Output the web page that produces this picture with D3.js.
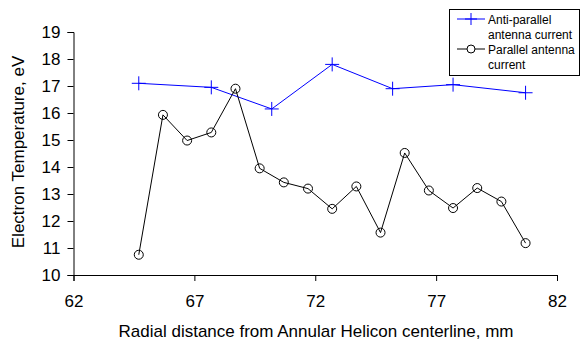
<!DOCTYPE html>
<html><head><meta charset="utf-8">
<script src="https://cdn.jsdelivr.net/npm/d3@7"></script>
<style>body{margin:0;background:#fff}svg{display:block}text{font-family:"Liberation Sans",Arial,sans-serif}</style>
</head><body>
<script>
const antiX = [64.7, 67.7, 70.2, 72.7, 75.2, 77.7, 80.7];
const antiY = [17.1, 16.95, 16.15, 17.8, 16.9, 17.05, 16.75];
const parX = [64.7, 65.7, 66.7, 67.7, 68.7, 69.7, 70.7, 71.7, 72.7, 73.7, 74.7, 75.7, 76.7, 77.7, 78.7, 79.7, 80.7];
const parY = [10.75, 15.93, 14.98, 15.28, 16.9, 13.95, 13.43, 13.2, 12.45, 13.28, 11.57, 14.52, 13.13, 12.48, 13.22, 12.72, 11.18];
const xTicks = [62, 67, 72, 77, 82];
const yTicks = [10, 11, 12, 13, 14, 15, 16, 17, 18, 19];
const legendLabels = [["Anti-parallel", "antenna current"], ["Parallel antenna", "current"]];

const W = 582, H = 344;
const svg = d3.select("body").append("svg").attr("width", W).attr("height", H);
const x = d3.scaleLinear().domain([62, 82]).range([73.5, 557]);
const y = d3.scaleLinear().domain([10, 19]).range([275, 32]);

const xa = svg.append("g").attr("transform", "translate(0,275)")
  .call(d3.axisBottom(x).tickValues(xTicks).tickSize(6).tickPadding(14).tickFormat(d3.format("d")));
const ya = svg.append("g").attr("transform", "translate(73.5,0)")
  .call(d3.axisLeft(y).tickValues(yTicks).tickSize(6).tickPadding(7).tickFormat(d3.format("d")));
[xa, ya].forEach(a => {
  a.select(".domain").attr("stroke", "#000").attr("stroke-width", 1);
  a.selectAll(".tick line").attr("stroke", "#000");
  a.selectAll(".tick text").attr("fill", "#000").style("font-size", "17px").style("font-family", '"Liberation Sans",Arial,sans-serif');
});

svg.append("text").attr("x", 316).attr("y", 337).attr("text-anchor", "middle")
  .style("font-size", "17px").text("Radial distance from Annular Helicon centerline, mm");
svg.append("text").attr("transform", "translate(24,152) rotate(-90)").attr("text-anchor", "middle")
  .style("font-size", "17px").text("Electron Temperature, eV");

const line = d3.line().x(d => x(d[0])).y(d => y(d[1]));
const anti = antiX.map((v, i) => [v, antiY[i]]);
const par = parX.map((v, i) => [v, parY[i]]);
const blue = "#0000ff";

svg.append("path").datum(anti).attr("d", line).attr("fill", "none").attr("stroke", blue).attr("stroke-width", 1);
svg.append("path").datum(par).attr("d", line).attr("fill", "none").attr("stroke", "#000").attr("stroke-width", 1);

const plus = (g, cx, cy, s, c) => {
  g.append("line").attr("x1", cx - s).attr("x2", cx + s).attr("y1", cy).attr("y2", cy).attr("stroke", c);
  g.append("line").attr("x1", cx).attr("x2", cx).attr("y1", cy - s).attr("y2", cy + s).attr("stroke", c);
};
const pg = svg.append("g");
anti.forEach(d => plus(pg, x(d[0]), y(d[1]), 7, blue));
svg.append("g").selectAll("circle").data(par).join("circle")
  .attr("cx", d => x(d[0])).attr("cy", d => y(d[1])).attr("r", 4.5)
  .attr("fill", "none").attr("stroke", "#000").attr("stroke-width", 1);

// legend
const lg = svg.append("g");
lg.append("rect").attr("x", 449.5).attr("y", 9.5).attr("width", 130).attr("height", 66)
  .attr("fill", "#fff").attr("stroke", "#000").attr("stroke-width", 1);
lg.append("line").attr("x1", 457).attr("x2", 485).attr("y1", 19).attr("y2", 19).attr("stroke", blue);
plus(lg, 471, 19, 6, blue);
lg.append("line").attr("x1", 457).attr("x2", 485).attr("y1", 49).attr("y2", 49).attr("stroke", "#000");
lg.append("circle").attr("cx", 471).attr("cy", 49).attr("r", 4).attr("fill", "#fff").attr("stroke", "#000");
legendLabels.forEach((lbl, i) => {
  lbl.forEach((t, j) => {
    lg.append("text").attr("x", 488).attr("y", 24 + i * 30 + j * 15).style("font-size", "12px").text(t);
  });
});
</script>
</body></html>
